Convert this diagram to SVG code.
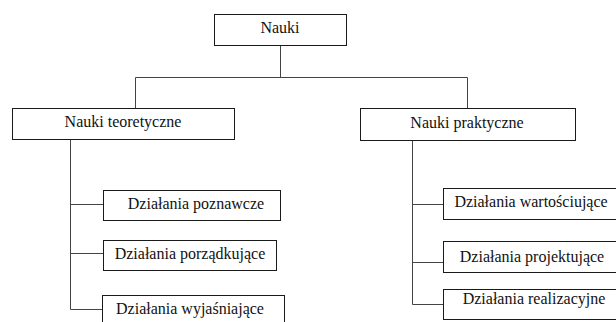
<svg xmlns="http://www.w3.org/2000/svg" width="616" height="322" viewBox="0 0 616 322">
  <style>
    .box { fill: #ffffff; stroke: #1a1a1a; stroke-width: 1; }
    .lbl { font-family: "Liberation Serif", "Times New Roman", serif; font-size: 16px; fill: #111111; text-anchor: middle; }
    .conn { fill: none; stroke: #444444; stroke-width: 1; }
  </style>
  <rect width="616" height="322" fill="#ffffff"/>

  <g id="connectors">
    <path class="conn" d="M280.5 45.5 V77.5"/>
    <path class="conn" d="M135.5 108.5 V77.5 H467.5 V108.5"/>
    <path class="conn" d="M70.5 139.5 V309.5 H103"/>
    <path class="conn" d="M70.5 204.5 H103"/>
    <path class="conn" d="M70.5 253.5 H103"/>
    <path class="conn" d="M412.5 140.5 V304.5 H443"/>
    <path class="conn" d="M412.5 204.5 H443"/>
    <path class="conn" d="M412.5 262.5 H443"/>
  </g>

  <g id="nauki">
    <rect class="box" x="214.5" y="14.5" width="132" height="31"/>
    <text class="lbl" x="280" y="33">Nauki</text>
  </g>

  <g id="nauki-teoretyczne">
    <rect class="box" x="12.5" y="108.5" width="222" height="31"/>
    <text class="lbl" x="123" y="127">Nauki teoretyczne</text>
  </g>

  <g id="nauki-praktyczne">
    <rect class="box" x="360.5" y="108.5" width="215" height="32"/>
    <text class="lbl" x="467" y="128">Nauki praktyczne</text>
  </g>

  <g id="dzialania-poznawcze">
    <rect class="box" x="103.5" y="190.5" width="177" height="30"/>
    <text class="lbl" x="196" y="208.5">Działania poznawcze</text>
  </g>

  <g id="dzialania-porzadkujace">
    <rect class="box" x="103.5" y="240.5" width="173" height="30"/>
    <text class="lbl" x="190" y="258.5">Działania porządkujące</text>
  </g>

  <g id="dzialania-wyjasniajace">
    <rect class="box" x="102.5" y="295.5" width="182" height="40"/>
    <text class="lbl" x="190" y="314">Działania wyjaśniające</text>
  </g>

  <g id="dzialania-wartosciujace">
    <rect class="box" x="443.5" y="188.5" width="180" height="31"/>
    <text class="lbl" x="531" y="207">Działania wartościujące</text>
  </g>

  <g id="dzialania-projektujace">
    <rect class="box" x="443.5" y="241.5" width="180" height="31"/>
    <text class="lbl" x="532" y="262">Działania projektujące</text>
  </g>

  <g id="dzialania-realizacyjne">
    <rect class="box" x="443.5" y="289.5" width="180" height="30"/>
    <text class="lbl" x="534" y="304">Działania realizacyjne</text>
  </g>
</svg>
